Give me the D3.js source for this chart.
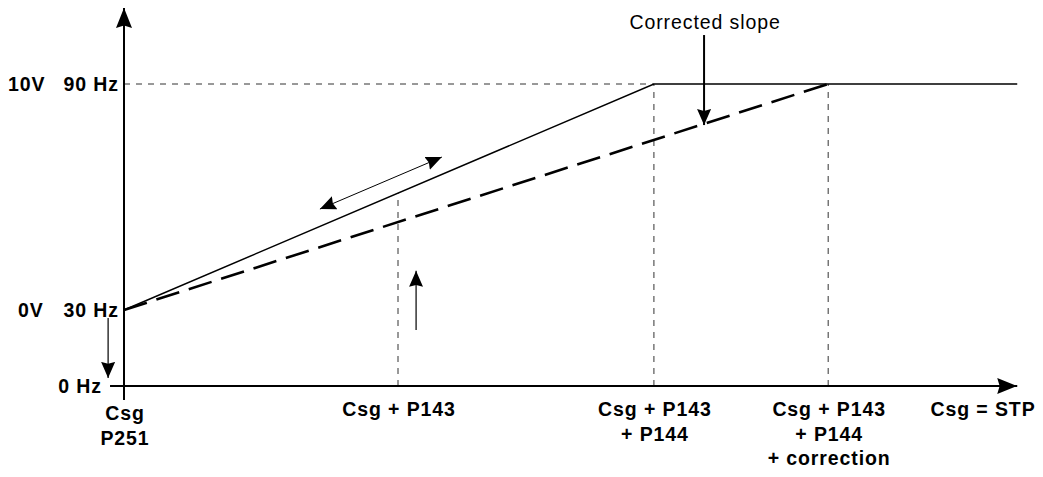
<!DOCTYPE html>
<html>
<head>
<meta charset="utf-8">
<script src="https://cdn.jsdelivr.net/npm/d3@7"></script>
<style>
  html, body { margin: 0; padding: 0; background: #fff; }
  svg text { font-family: "Liberation Sans", Arial, sans-serif; fill: #000; letter-spacing: 0.9px; }
</style>
</head>
<body>
<div id="chart"></div>
<script>
// x positions in units of P143 (Csg = 0), y values in Hz
const xBreaks = [0, 1, 1.934, 2.57, 3.26];
const xTickLabels = [["Csg", "P251"], ["Csg + P143"], ["Csg + P143", "+ P144"], ["Csg + P143", "+ P144", "+ correction"]];
const hzValues = [0, 30, 90];
const hzLabels = ["0 Hz", "30 Hz", "90 Hz"];
const voltLabels = ["", "0V", "10V"];

// solid = nominal slope, dashed = corrected slope
const nominalX = [0, 1.934, 3.26];
const nominalHz = [30, 90, 90];
const correctedX = [0, 2.57];
const correctedHz = [30, 90];

// annotation arrows [x1, hz1, x2, hz2]
const doubleArrow = [0.715, 56.8, 1.16, 70.6];
const upArrow = [1.066, 22.1, 1.066, 40.4];
const downArrow = [-0.058, 26.8, -0.058, 3.2];
const slopeArrow = [2.117, 103, 2.117, 79.1];

const width = 1043;
const height = 477;

const x = d3.scaleLinear().domain([0, 1]).range([124, 398]);
const y = d3.scaleLinear().domain([0, 30, 90]).range([386, 310, 84]);

const svg = d3.select("#chart").append("svg")
  .attr("width", width)
  .attr("height", height);

const defs = svg.append("defs");
function marker(id, w, h) {
  defs.append("marker")
    .attr("id", id)
    .attr("viewBox", "0 0 " + w + " " + h)
    .attr("refX", w)
    .attr("refY", h / 2)
    .attr("markerWidth", w)
    .attr("markerHeight", h)
    .attr("markerUnits", "userSpaceOnUse")
    .attr("orient", "auto-start-reverse")
    .append("path")
    .attr("d", "M0,0L" + w + "," + (h / 2) + "L0," + h + "L" + (w * 0.12) + "," + (h / 2) + "Z")
    .attr("fill", "#000");
}
marker("head-big", 20, 16);
marker("head-small", 16, 14);

const line = d3.line().x(d => x(d[0])).y(d => y(d[1]));

// Guide lines (thin dashed)
const guides = [
  [[0, 90], [nominalX[1], 90]],
  [[1, 0], [1, 30 + 60 / nominalX[1]]],
  [[nominalX[1], 0], [nominalX[1], 90]],
  [[correctedX[1], 0], [correctedX[1], 90]]
];
svg.append("g").selectAll("path")
  .data(guides)
  .enter()
  .append("path")
  .attr("d", line)
  .attr("fill", "none")
  .attr("stroke", "#333")
  .attr("stroke-width", 1)
  .attr("stroke-dasharray", "6,6");

// Axes
svg.append("path")
  .attr("d", line([[-0.051, 0], [xBreaks[4], 0]]))
  .attr("stroke", "#000")
  .attr("stroke-width", 2)
  .attr("marker-end", "url(#head-big)");
svg.append("path")
  .attr("d", line([[0, -5.5], [0, 110.2]]))
  .attr("stroke", "#000")
  .attr("stroke-width", 2)
  .attr("marker-end", "url(#head-big)");

// Curves
svg.append("path")
  .attr("d", line(d3.zip(nominalX, nominalHz)))
  .attr("fill", "none")
  .attr("stroke", "#000")
  .attr("stroke-width", 1.5);
svg.append("path")
  .attr("d", line(d3.zip(correctedX, correctedHz)))
  .attr("fill", "none")
  .attr("stroke", "#000")
  .attr("stroke-width", 2.6)
  .attr("stroke-dasharray", "24,10");

// Annotation arrows
function arrow(a, w, both) {
  const p = svg.append("path")
    .attr("d", line([[a[0], a[1]], [a[2], a[3]]]))
    .attr("stroke", "#000")
    .attr("stroke-width", w)
    .attr("marker-end", "url(#head-small)");
  if (both) p.attr("marker-start", "url(#head-small)");
}
arrow(doubleArrow, 1, true);
arrow(upArrow, 1.2, false);
arrow(downArrow, 1.2, false);
arrow(slopeArrow, 2, false);

// Y labels
const yLab = svg.append("g")
  .attr("font-size", 19.5)
  .attr("font-weight", "bold");
yLab.selectAll(".hz")
  .data(hzValues)
  .enter()
  .append("text")
  .attr("x", (d, i) => i === 0 ? 102 : 119)
  .attr("y", d => y(d))
  .attr("dy", "0.36em")
  .attr("text-anchor", "end")
  .text((d, i) => hzLabels[i]);
yLab.selectAll(".v")
  .data(hzValues)
  .enter()
  .append("text")
  .attr("x", (d, i) => i === 2 ? 8 : 18)
  .attr("y", d => y(d))
  .attr("dy", "0.36em")
  .text((d, i) => voltLabels[i]);

// X labels
const xLab = svg.append("g")
  .attr("font-size", 19.5)
  .attr("font-weight", "bold")
  .attr("text-anchor", "middle");
xLab.selectAll("text")
  .data(xTickLabels)
  .enter()
  .append("text")
  .attr("transform", (d, i) => "translate(" + (x(xBreaks[i]) + 1) + "," + (i === 0 ? 413 : 409) + ")")
  .selectAll("tspan")
  .data(d => d)
  .enter()
  .append("tspan")
  .attr("x", 0)
  .attr("y", (d, i) => i * 24.5)
  .attr("dy", "0.36em")
  .text(d => d);
xLab.append("text")
  .attr("x", 983)
  .attr("y", 409)
  .attr("dy", "0.36em")
  .text("Csg = STP");

svg.append("text")
  .attr("x", x(slopeArrow[0]) + 1)
  .attr("y", 22)
  .attr("dy", "0.36em")
  .attr("text-anchor", "middle")
  .attr("font-size", 19.5)
  .text("Corrected slope");
</script>
</body>
</html>
